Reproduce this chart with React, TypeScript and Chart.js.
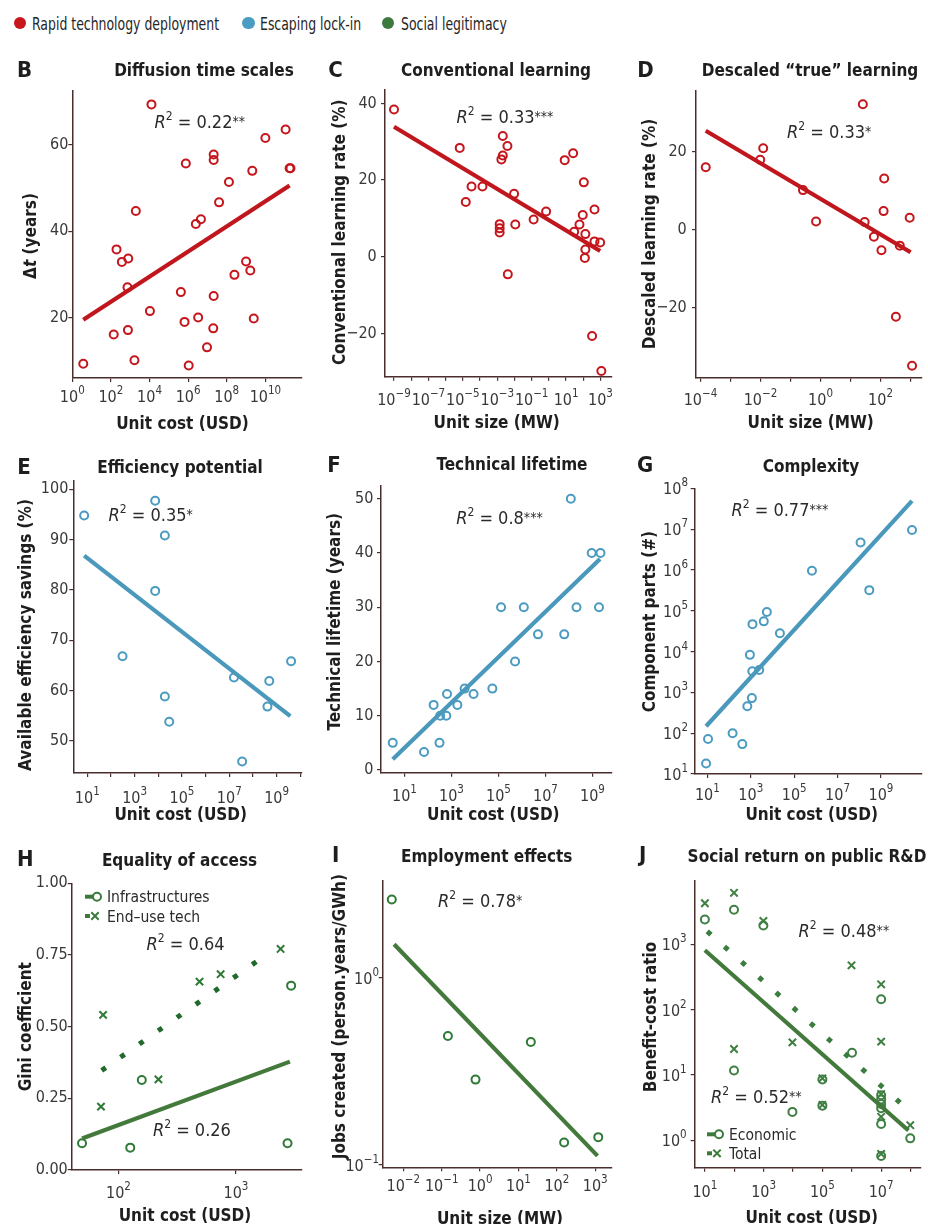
import React, { useEffect, useRef } from "react";
import { Chart, registerables } from "chart.js";
Chart.register(...registerables);

const FONT = "'Liberation Sans Narrow','DejaVu Sans Condensed',Roboto,'Noto Sans',sans-serif";
const AXIS = "#4a2e2e";
const TICK = "#383838";
const TEXT = "#1e1e1e";
const RED = "#c4161c";
const BLUE = "#4b9bc0";
const GREEN = "#3c7a3c";
const GREEN_D = "#1f6a2c";

// ---------- B: Diffusion time scales
const B_COST = [3.7, 1.26e4, 195, 370, 790, 1950, 720, 140, 760, 1660, 1.05e4, 7.6e5, 4.2e5, 6.5e5, 3.3e6, 1.07e6, 2.5e6, 4.6e6, 2.1e7, 2.1e7, 4.0e7, 2.1e7, 2.0e7, 9.5e6, 1.3e8, 2.5e8, 1.0e9, 1.66e9, 2.1e9, 2.5e9, 1.0e10, 1.12e11, 1.8e11, 2.0e11];
const B_DT = [9.3, 69.4, 35.8, 32.9, 33.7, 44.7, 27.0, 16.1, 17.1, 10.1, 21.5, 55.7, 25.9, 19.0, 20.0, 8.9, 41.7, 42.8, 57.8, 56.5, 46.7, 25.0, 17.5, 13.1, 51.4, 29.9, 33.0, 30.9, 54.0, 19.8, 61.6, 63.6, 54.6, 54.6];
const B_FIT_X = [3.7, 1.8e11];
const B_FIT_Y = [19.5, 50.6];
const B_X_TICK_EXP = [0, 2, 4, 6, 8, 10];
const B_X_LABEL_EXP = [0, 2, 4, 6, 8, 10];
const B_Y_TICKS = [20, 40, 60];

// ---------- C: Conventional learning
const C_SIZE = [1e-9, 6.6e-6, 1.48e-5, 3.2e-5, 1.38e-4, 2.1e-3, 3.9e-3, 2.1e-3, 1.74e-3, 1.38e-3, 1.38e-3, 1.38e-3, 9.5e-3, 1.12e-2, 4.1e-3, 0.13, 0.69, 8.3, 25.7, 107, 93, 60, 29.5, 132, 132, 123, 447, 447, 955, 324, 1120];
const C_RATE = [38.4, 28.4, 14.3, 18.3, 18.3, 31.5, 28.9, 26.4, 25.4, 8.5, 7.4, 6.3, 16.4, 8.4, -4.6, 9.7, 11.8, 25.2, 27.0, 19.4, 10.9, 8.4, 6.5, 5.9, 1.9, -0.3, 12.3, 4.0, 3.7, -20.7, -29.8];
const C_FIT_X = [1e-9, 955];
const C_FIT_Y = [33.9, 1.5];
const C_X_TICK_EXP = [-9, -8, -7, -6, -5, -4, -3, -2, -1, 0, 1, 2, 3];
const C_X_LABEL_EXP = [-9, -7, -5, -3, -1, 1, 3];
const C_Y_TICKS = [-20, 0, 20, 40];

// ---------- D: Descaled "true" learning
const D_SIZE = [1.5e-4, 9.8e-3, 1.23e-2, 0.26, 0.71, 25.7, 29.5, 60, 107, 132, 126, 437, 933, 324, 1120];
const D_RATE = [16.1, 18.0, 21.0, 10.2, 2.1, 32.3, 2.0, -1.8, -5.3, 13.2, 4.8, -4.1, 3.1, -22.4, -35.0];
const D_FIT_X = [1.5e-4, 1000];
const D_FIT_Y = [25.5, -5.8];
const D_X_TICK_EXP = [-4, -3, -2, -1, 0, 1, 2, 3];
const D_X_LABEL_EXP = [-4, -2, 0, 2];
const D_Y_TICKS = [-20, 0, 20];

// ---------- E: Efficiency potential
const E_COST = [7.4, 7.4e3, 1.9e4, 7.4e3, 309, 1.9e4, 2.9e4, 1.58e7, 3.5e7, 4.9e8, 4.1e8, 4.1e9];
const E_SAVE = [94.8, 97.7, 90.8, 79.8, 66.8, 58.8, 53.8, 62.6, 45.9, 61.9, 56.8, 65.8];
const E_FIT_X = [7.4, 3.8e9];
const E_FIT_Y = [86.8, 54.9];
const E_X_TICK_EXP = [1, 2, 3, 4, 5, 6, 7, 8, 9, 10];
const E_X_LABEL_EXP = [1, 3, 5, 7, 9];
const E_Y_TICKS = [50, 60, 70, 80, 90, 100];

// ---------- F: Technical lifetime
const F_COST = [3.16, 68, 174, 309, 331, 603, 646, 1780, 3630, 8700, 5.5e4, 1.29e5, 5.1e5, 1.2e6, 4.8e6, 6.3e7, 1.2e8, 2.1e8, 9.3e8, 2.2e9, 1.9e9];
const F_LIFE = [5, 3.3, 12, 5, 10, 10, 14, 12, 15, 14, 15, 30, 20, 30, 25, 25, 50, 30, 40, 40, 30];
const F_FIT_X = [3.16, 2.1e9];
const F_FIT_Y = [2.0, 38.9];
const F_X_TICK_EXP = [1, 3, 5, 7, 9];
const F_X_LABEL_EXP = [1, 3, 5, 7, 9];
const F_Y_TICKS = [0, 10, 20, 30, 40, 50];

// ---------- G: Complexity
const G_COST = [8.7, 10.7, 145, 407, 692, 1120, 912, 1175, 2450, 1200, 3980, 5500, 2.2e4, 6.6e5, 1.15e8, 2.9e8, 2.7e10];
const G_PARTS = [18, 72, 100, 54, 457, 724, 8300, 3300, 3550, 4.7e4, 5.5e4, 9.3e4, 2.8e4, 9.5e5, 4.7e6, 3.2e5, 9.5e6];
const G_FIT_X = [8.7, 2.7e10];
const G_FIT_Y = [148, 4.9e7];
const G_X_TICK_EXP = [1, 3, 5, 7, 9];
const G_X_LABEL_EXP = [1, 3, 5, 7, 9];
const G_Y_TICK_EXP = [1, 2, 3, 4, 5, 6, 7, 8];
const G_Y_LABEL_EXP = [1, 2, 3, 4, 5, 6, 7, 8];

// ---------- H: Equality of access
const H_INFRA_COST = [49, 126, 158, 2750, 2950];
const H_INFRA_GINI = [0.093, 0.078, 0.314, 0.093, 0.643];
const H_END_COST = [71, 74, 219, 490, 741, 2400];
const H_END_GINI = [0.221, 0.541, 0.316, 0.657, 0.683, 0.771];
const H_INFRA_FIT_X = [49, 2880];
const H_INFRA_FIT_Y = [0.11, 0.378];
const H_END_FIT_X = [72, 1950];
const H_END_FIT_Y = [0.347, 0.76];
const H_X_TICK_EXP = [2, 3];
const H_X_LABEL_EXP = [2, 3];
const H_Y_TICKS = [0, 0.25, 0.5, 0.75, 1];

// ---------- I: Employment effects
const I_SIZE = [5.0e-3, 0.145, 0.76, 21, 155, 1200];
const I_JOBS = [2.62, 0.489, 0.286, 0.454, 0.132, 0.141];
const I_FIT_X = [5.75e-3, 1150];
const I_FIT_Y = [1.51, 0.112];
const I_X_TICK_EXP = [-2, -1, 0, 1, 2, 3];
const I_X_LABEL_EXP = [-2, -1, 0, 1, 2, 3];
const I_Y_TICK_EXP = [-1, 0];
const I_Y_LABEL_EXP = [-1, 0];

// ---------- J: Social return on public R&D
const J_ECON_COST = [10, 98, 980, 98, 9550, 1e5, 1e5, 1.02e6, 1e7, 1e7, 1e7, 1e7, 1e7, 1e7, 1e7, 9.8e7];
const J_ECON_BCR = [2400, 3390, 1950, 11.7, 2.72, 8.5, 3.39, 21.9, 145, 4.9, 4.2, 3.6, 3.1, 1.78, 0.575, 1.07];
const J_TOT_COST = [10, 98, 980, 98, 9550, 1e5, 1e5, 9.8e5, 1e7, 1e7, 1e7, 1e7, 1e7, 9.8e7];
const J_TOT_BCR = [4270, 6170, 2290, 25, 31.6, 8.9, 3.47, 479, 245, 32.4, 5.1, 2.29, 0.617, 1.7];
const J_ECON_FIT_X = [10, 8.5e7];
const J_ECON_FIT_Y = [813, 1.41];
const J_TOT_FIT_X = [12, 5.1e7];
const J_TOT_FIT_Y = [1585, 3.55];
const J_X_TICK_EXP = [1, 2, 3, 4, 5, 6, 7, 8];
const J_X_LABEL_EXP = [1, 3, 5, 7];
const J_Y_TICK_EXP = [0, 1, 2, 3];
const J_Y_LABEL_EXP = [0, 1, 2, 3];

const LEGEND_ITEMS = ["Rapid technology deployment", "Escaping lock-in", "Social legitimacy"];
const LEGEND_COLORS = ["#c8161d", "#4a9cc3", "#3d7a40"];

type Part = { t: string; f: string; dy?: number };
const fnt = (size: number, style = "") => `${style} ${size}px ${FONT}`.trim();

function drawRich(ctx: CanvasRenderingContext2D, parts: Part[], x: number, y: number, align: string) {
  const ws = parts.map((p) => {
    ctx.font = p.f;
    return ctx.measureText(p.t).width;
  });
  const tot = ws.reduce((a, b) => a + b, 0);
  let cx = align === "center" ? x - tot / 2 : align === "right" ? x - tot : x;
  ctx.textAlign = "left";
  ctx.textBaseline = "alphabetic";
  parts.forEach((p, i) => {
    ctx.font = p.f;
    ctx.fillText(p.t, cx, y + (p.dy || 0));
    cx += ws[i];
  });
}

function logParts(e: number): Part[] {
  return [
    { t: "10", f: fnt(16) },
    { t: String(e).replace("-", "\u2212"), f: fnt(11.5), dy: -8 },
  ];
}

type Series = { x: number[]; y: number[]; kind: string; color: string };
type Panel = any;

const S = (x: number[], y: number[], kind: string, color: string): Series => ({ x, y, kind, color });
const bold17 = (t: string): Part[] => [{ t, f: fnt(17, "bold") }];

const PANELS: Panel[] = [
  {
    key: "B", letter: "B", title: "Diffusion time scales",
    cell: [0, 40, 310, 440], area: [72.3, 91, 302, 378],
    letterPos: [17, 77], titlePos: [204, 76],
    xTitle: "Unit cost (USD)", xTitlePos: [182.5, 422.7],
    yTitle: [{ t: "\u0394", f: fnt(17, "bold") }, { t: "t", f: fnt(17, "italic bold") }, { t: " (years)", f: fnt(17, "bold") }],
    yTitlePos: [29.3, 236],
    xType: "log", xMin: 1, xMax: 7.9e11, xTickExp: B_X_TICK_EXP, xLabelExp: B_X_LABEL_EXP, xLabelDy: 24,
    yType: "linear", yMin: 6, yMax: 72.5, yTicks: B_Y_TICKS, yLabelRight: 68.3,
    series: [S(B_FIT_X, B_FIT_Y, "line", "#c0161d"), S(B_COST, B_DT, "circle", RED)],
    r2: [{ x: 4e6, y: 65.4, v: "0.22", s: "**" }],
  },
  {
    key: "C", letter: "C", title: "Conventional learning",
    cell: [310, 40, 620, 440], area: [385, 90, 611.7, 376.7],
    letterPos: [328.3, 77], titlePos: [496, 76],
    xTitle: "Unit size (MW)", xTitlePos: [496.7, 421.7],
    yTitle: bold17("Conventional learning rate (%)"), yTitlePos: [338.3, 232.3],
    xType: "log", xMin: 3.0e-10, xMax: 4470, xTickExp: C_X_TICK_EXP, xLabelExp: C_X_LABEL_EXP, xLabelDy: 28,
    yType: "linear", yMin: -31.3, yMax: 43.5, yTicks: C_Y_TICKS, yLabelRight: 376.7,
    series: [S(C_FIT_X, C_FIT_Y, "line", "#c0161d"), S(C_SIZE, C_RATE, "circle", RED)],
    r2: [{ x: 2.8e-3, y: 36.5, v: "0.33", s: "***" }],
  },
  {
    key: "D", letter: "D", title: "Descaled \u201ctrue\u201d learning",
    cell: [620, 40, 928, 440], area: [696, 90.7, 923, 377.7],
    letterPos: [637.3, 77], titlePos: [810, 76],
    xTitle: "Unit size (MW)", xTitlePos: [810.7, 422],
    yTitle: bold17("Descaled learning rate (%)"), yTitlePos: [648.3, 234],
    xType: "log", xMin: 7.1e-5, xMax: 2400, xTickExp: D_X_TICK_EXP, xLabelExp: D_X_LABEL_EXP, xLabelDy: 27,
    yType: "linear", yMin: -38.1, yMax: 35.8, yTicks: D_Y_TICKS, yLabelRight: 686.7,
    series: [S(D_FIT_X, D_FIT_Y, "line", "#c0161d"), S(D_SIZE, D_RATE, "circle", RED)],
    r2: [{ x: 1.95, y: 25.4, v: "0.33", s: "*" }],
  },
  {
    key: "E", letter: "E", title: "Efficiency potential",
    cell: [0, 440, 310, 830], area: [73.3, 480.7, 301.7, 773],
    letterPos: [17.3, 473.5], titlePos: [180, 473],
    xTitle: "Unit cost (USD)", xTitlePos: [180.7, 813.3],
    yTitle: bold17("Available efficiency savings (%)"), yTitlePos: [25, 635],
    xType: "log", xMin: 2.57, xMax: 1.15e10, xTickExp: E_X_TICK_EXP, xLabelExp: E_X_LABEL_EXP, xLabelDy: 30,
    yType: "linear", yMin: 43.6, yMax: 101.7, yTicks: E_Y_TICKS, yLabelRight: 68.3,
    series: [S(E_FIT_X, E_FIT_Y, "line", "#4a98bb"), S(E_COST, E_SAVE, "circle", BLUE)],
    r2: [{ x: 4800, y: 94.9, v: "0.35", s: "*" }],
  },
  {
    key: "F", letter: "F", title: "Technical lifetime",
    cell: [310, 440, 620, 830], area: [381, 485.7, 611.7, 772.7],
    letterPos: [327.3, 472], titlePos: [512, 470],
    xTitle: "Unit cost (USD)", xTitlePos: [493.3, 814],
    yTitle: bold17("Technical lifetime (years)"), yTitlePos: [334, 621.7],
    xType: "log", xMin: 1, xMax: 6.6e9, xTickExp: F_X_TICK_EXP, xLabelExp: F_X_LABEL_EXP, xLabelDy: 28,
    yType: "linear", yMin: -0.5, yMax: 52.4, yTicks: F_Y_TICKS, yLabelRight: 373.3,
    series: [S(F_FIT_X, F_FIT_Y, "line", "#4a98bb"), S(F_COST, F_LIFE, "circle", BLUE)],
    r2: [{ x: 1.1e5, y: 46.6, v: "0.8", s: "***" }],
  },
  {
    key: "G", letter: "G", title: "Complexity",
    cell: [620, 440, 928, 830], area: [694.7, 488.3, 922.7, 774],
    letterPos: [637, 472], titlePos: [811, 471.7],
    xTitle: "Unit cost (USD)", xTitlePos: [811.7, 814],
    yTitle: bold17("Component parts (#)"), yTitlePos: [648.3, 621.7],
    xType: "log", xMin: 2.6, xMax: 7.8e10, xTickExp: G_X_TICK_EXP, xLabelExp: G_X_LABEL_EXP, xLabelDy: 26,
    yType: "log", yMin: 10, yMax: 1e8, yTickExp: G_Y_TICK_EXP, yLabelExp: G_Y_LABEL_EXP, yLabelRight: 688,
    series: [S(G_FIT_X, G_FIT_Y, "line", "#4a98bb"), S(G_COST, G_PARTS, "circle", BLUE)],
    r2: [{ x: 2.2e4, y: 3e7, v: "0.77", s: "***" }],
  },
  {
    key: "H", letter: "H", title: "Equality of access",
    cell: [0, 830, 310, 1224], area: [71.7, 883.3, 301.7, 1170],
    letterPos: [17, 866], titlePos: [179.5, 866],
    xTitle: "Unit cost (USD)", xTitlePos: [185, 1215],
    yTitle: bold17("Gini coefficient"), yTitlePos: [25, 1026.7],
    xType: "log", xMin: 40, xMax: 3630, xTickExp: H_X_TICK_EXP, xLabelExp: H_X_LABEL_EXP, xLabelDy: 28,
    yType: "linear", yMin: 0, yMax: 1, yTicks: H_Y_TICKS, yLabelRight: 68.3, yFmt: (v: number) => v.toFixed(2),
    series: [
      S(H_INFRA_FIT_X, H_INFRA_FIT_Y, "line", "#437a3c"),
      S(H_END_FIT_X, H_END_FIT_Y, "dots", GREEN_D),
      S(H_INFRA_COST, H_INFRA_GINI, "circle", "#2f7a36"),
      S(H_END_COST, H_END_GINI, "cross", "#2f7a36"),
    ],
    r2: [{ x: 372, y: 0.79, v: "0.64", s: "" }, { x: 422, y: 0.14, v: "0.26", s: "" }],
    legend: [
      { x: 85, y: 896.7, text: "Infrastructures", marker: "circle" },
      { x: 85, y: 916, text: "End\u2013use tech", marker: "cross" },
    ],
  },
  {
    key: "I", letter: "I", title: "Employment effects",
    cell: [310, 830, 620, 1224], area: [382.7, 880.7, 611.7, 1167.3],
    letterPos: [332, 862], titlePos: [486.7, 861.7],
    xTitle: "Unit size (MW)", xTitlePos: [500, 1218],
    yTitle: bold17("Jobs created (person.years/GWh)"), yTitlePos: [338.3, 1016.7],
    xType: "log", xMin: 2.9e-3, xMax: 2690, xTickExp: I_X_TICK_EXP, xLabelExp: I_X_LABEL_EXP, xLabelDy: 24,
    yType: "log", yMin: 0.0973, yMax: 3.3, yTickExp: I_Y_TICK_EXP, yLabelExp: I_Y_LABEL_EXP, yLabelRight: 379,
    series: [S(I_FIT_X, I_FIT_Y, "line", "#437a3c"), S(I_SIZE, I_JOBS, "circle", "#2f7a36")],
    r2: [{ x: 1, y: 2.6, v: "0.78", s: "*" }],
  },
  {
    key: "J", letter: "J", title: "Social return on public R&D",
    cell: [620, 830, 928, 1224], area: [694.7, 880.7, 922.7, 1167.7],
    letterPos: [639, 862], titlePos: [807, 862],
    xTitle: "Unit cost (USD)", xTitlePos: [811.7, 1216.7],
    yTitle: bold17("Benefit-cost ratio"), yTitlePos: [649.3, 1017],
    xType: "log", xMin: 4.5, xMax: 2.24e8, xTickExp: J_X_TICK_EXP, xLabelExp: J_X_LABEL_EXP, xLabelDy: 29,
    yType: "log", yMin: 0.38, yMax: 9460, yTickExp: J_Y_TICK_EXP, yLabelExp: J_Y_LABEL_EXP, yLabelRight: 686.7,
    series: [
      S(J_ECON_FIT_X, J_ECON_FIT_Y, "line", "#437a3c"),
      S(J_TOT_FIT_X, J_TOT_FIT_Y, "dots", "#3a7d3e"),
      S(J_ECON_COST, J_ECON_BCR, "circle", "#3f7f42"),
      S(J_TOT_COST, J_TOT_BCR, "cross", "#3f7f42"),
    ],
    r2: [{ x: 5.4e5, y: 1660, v: "0.48", s: "**" }, { x: 562, y: 4.6, v: "0.52", s: "**" }],
    legend: [
      { x: 707, y: 1134.3, text: "Economic", marker: "circle" },
      { x: 707, y: 1153.3, text: "Total", marker: "cross" },
    ],
  },
];

function makeDecor(p: Panel) {
  return {
    id: "decor" + p.key,
    afterDraw(chart: any) {
      const ctx: CanvasRenderingContext2D = chart.ctx;
      const ox = p.cell[0];
      const oy = p.cell[1];
      const xs = chart.scales.x;
      const ys = chart.scales.y;
      const ca = chart.chartArea;
      ctx.save();
      ctx.fillStyle = TEXT;
      drawRich(ctx, [{ t: p.letter, f: fnt(22, "bold") }], p.letterPos[0] - ox, p.letterPos[1] - oy, "left");
      drawRich(ctx, [{ t: p.title, f: fnt(17, "bold") }], p.titlePos[0] - ox, p.titlePos[1] - oy, "center");
      drawRich(ctx, bold17(p.xTitle), p.xTitlePos[0] - ox, p.xTitlePos[1] - oy + 6.2, "center");
      ctx.save();
      ctx.translate(p.yTitlePos[0] - ox, p.yTitlePos[1] - oy);
      ctx.rotate(-Math.PI / 2);
      drawRich(ctx, p.yTitle, 0, 6.2, "center");
      ctx.restore();

      ctx.fillStyle = TICK;
      if (p.xType === "log") {
        p.xLabelExp.forEach((e: number) => {
          const px = xs.getPixelForValue(Math.pow(10, e));
          drawRich(ctx, logParts(e), px, ca.bottom + p.xLabelDy, "center");
        });
      }
      if (p.yType === "log") {
        p.yLabelExp.forEach((e: number) => {
          const py = ys.getPixelForValue(Math.pow(10, e));
          drawRich(ctx, logParts(e), p.yLabelRight - ox, py + 6, "right");
        });
      }

      ctx.fillStyle = "#2a2a2a";
      p.r2.forEach((r: any) => {
        const px = xs.getPixelForValue(r.x);
        const py = ys.getPixelForValue(r.y);
        const parts: Part[] = [
          { t: "R", f: fnt(18, "italic") },
          { t: "2", f: fnt(12), dy: -8 },
          { t: " = " + r.v, f: fnt(18) },
        ];
        if (r.s) parts.push({ t: r.s, f: fnt(14), dy: -2 });
        drawRich(ctx, parts, px, py + 6.5, "center");
      });

      if (p.legend) {
        p.legend.forEach((l: any) => {
          const x = l.x - ox;
          const y = l.y - oy;
          ctx.strokeStyle = GREEN;
          ctx.lineWidth = 4;
          ctx.beginPath();
          ctx.moveTo(x, y);
          ctx.lineTo(x + (l.marker === "circle" ? 9 : 5), y);
          ctx.stroke();
          ctx.lineWidth = 2;
          const mx = l.marker === "circle" ? x + 12 : x + 10;
          if (l.marker === "circle") {
            ctx.fillStyle = "#fff";
            ctx.beginPath();
            ctx.arc(mx, y, 4, 0, Math.PI * 2);
            ctx.fill();
            ctx.stroke();
          } else {
            const d = 3.7;
            ctx.beginPath();
            ctx.moveTo(mx - d, y - d);
            ctx.lineTo(mx + d, y + d);
            ctx.moveTo(mx - d, y + d);
            ctx.lineTo(mx + d, y - d);
            ctx.stroke();
          }
          ctx.fillStyle = "#2a2a2a";
          drawRich(ctx, [{ t: l.text, f: fnt(15.5) }], x + 22, y + 5.5, "left");
        });
      }
      ctx.restore();
    },
  };
}

function scaleOpts(p: Panel, axis: string) {
  const isX = axis === "x";
  const type = isX ? p.xType : p.yType;
  const exps = isX ? p.xTickExp : p.yTickExp;
  const vals: number[] = type === "log" ? exps.map((e: number) => Math.pow(10, e)) : isX ? p.xTicks : p.yTicks;
  const pad = isX ? 2 : Math.max(0, p.area[0] - p.yLabelRight - 4);
  return {
    type: type === "log" ? "logarithmic" : "linear",
    position: isX ? "bottom" : "left",
    min: isX ? p.xMin : p.yMin,
    max: isX ? p.xMax : p.yMax,
    bounds: "data",
    border: { display: true, color: AXIS, width: 1.5 },
    grid: { display: true, drawOnChartArea: false, drawTicks: true, tickLength: 4, color: AXIS, lineWidth: 1.2 },
    ticks: {
      autoSkip: false,
      maxRotation: 0,
      minRotation: 0,
      padding: pad,
      color: TICK,
      font: { family: FONT, size: 16 },
      callback: (v: number) => {
        if (type === "log") return "";
        if (p.yFmt) return p.yFmt(v);
        return String(v).replace("-", "\u2212");
      },
    },
    afterBuildTicks: (s: any) => {
      s.ticks = vals.map((v) => ({ value: v }));
    },
    afterFit: (s: any) => {
      if (isX) s.height = p.cell[3] - p.area[3];
      else s.width = p.area[0] - p.cell[0];
    },
  };
}

function buildDatasets(p: Panel) {
  return p.series.map((s: Series) => {
    const data = s.x.map((x, i) => ({ x, y: s.y[i] }));
    if (s.kind === "line")
      return { data, showLine: true, borderColor: s.color, borderWidth: 4.2, pointRadius: 0, borderCapStyle: "butt", clip: false };
    if (s.kind === "dots")
      return { data, showLine: true, borderColor: s.color, borderWidth: 5, borderDash: [5, 18], pointRadius: 0, borderCapStyle: "butt", clip: false };
    if (s.kind === "cross")
      return { data, showLine: false, pointStyle: "crossRot", pointRadius: 5.2, borderWidth: 2, borderColor: s.color, backgroundColor: s.color, clip: false };
    return { data, showLine: false, pointStyle: "circle", pointRadius: 4, borderWidth: 2, borderColor: s.color, backgroundColor: "rgba(0,0,0,0)", clip: false };
  });
}

function PanelChart({ p }: { p: Panel }) {
  const ref = useRef<HTMLCanvasElement>(null);
  useEffect(() => {
    const chart = new Chart(ref.current as HTMLCanvasElement, {
      type: "scatter",
      data: { datasets: buildDatasets(p) } as any,
      options: {
        responsive: false,
        maintainAspectRatio: false,
        animation: false,
        events: [],
        layout: { padding: { left: 0, top: p.area[1] - p.cell[1], right: p.cell[2] - p.area[2], bottom: 0 } },
        plugins: { legend: { display: false }, tooltip: { enabled: false }, title: { display: false } },
        scales: { x: scaleOpts(p, "x"), y: scaleOpts(p, "y") } as any,
      },
      plugins: [makeDecor(p)],
    });
    return () => chart.destroy();
  }, [p]);
  const w = p.cell[2] - p.cell[0];
  const h = p.cell[3] - p.cell[1];
  return (
    <canvas
      ref={ref}
      width={w}
      height={h}
      style={{ position: "absolute", left: p.cell[0], top: p.cell[1], width: w, height: h }}
    />
  );
}

const LEGEND_DOT_X = [20, 248.3, 388];
const LEGEND_TEXT_X = [31.7, 259.5, 401];

export default function App() {
  return (
    <div style={{ position: "absolute", left: 0, top: 0, width: 928, height: 1224, background: "#fff", overflow: "hidden" }}>
      {LEGEND_ITEMS.map((t, i) => (
        <React.Fragment key={t}>
          <div
            style={{
              position: "absolute",
              left: LEGEND_DOT_X[i] - 6.3,
              top: 16.7,
              width: 12.6,
              height: 12.6,
              borderRadius: "50%",
              background: LEGEND_COLORS[i],
            }}
          />
          <span
            style={{
              position: "absolute",
              left: LEGEND_TEXT_X[i],
              top: 14.5,
              fontFamily: FONT,
              fontSize: 18,
              lineHeight: "18px",
              color: "#262626",
              whiteSpace: "nowrap",
              display: "inline-block",
              transform: "scaleX(0.77)",
              transformOrigin: "left center",
            }}
          >
            {t}
          </span>
        </React.Fragment>
      ))}
      {PANELS.map((p) => (
        <PanelChart key={p.key} p={p} />
      ))}
    </div>
  );
}
